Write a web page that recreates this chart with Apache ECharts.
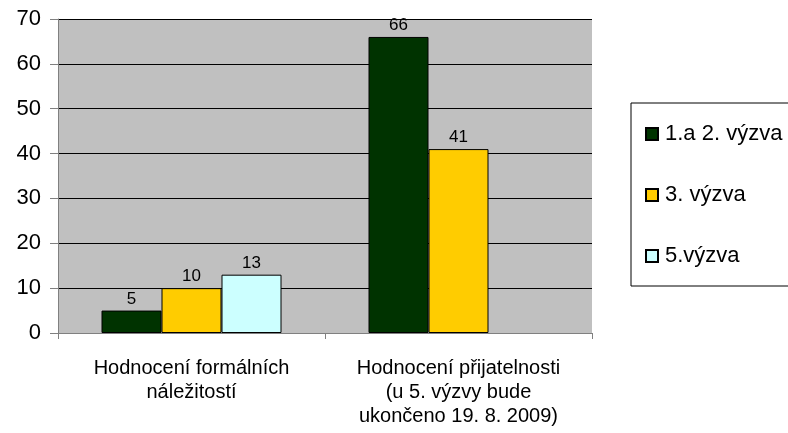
<!DOCTYPE html>
<html>
<head>
<meta charset="utf-8">
<script src="https://cdn.jsdelivr.net/npm/echarts@6/dist/echarts.min.js"></script>
<style>
  html, body { margin: 0; padding: 0; background: #fff; }
  #main { width: 788px; height: 433px; }
</style>
</head>
<body>
<div id="main"></div>
<script>
// data
var categories = ['Hodnocení formálních\nnáležitostí', 'Hodnocení přijatelnosti\n(u 5. výzvy bude\nukončeno 19. 8. 2009)']
var seriesNames = ['1.a 2. výzva', '3. výzva', '5.výzva']
var vyzva12 = [5, 66]
var vyzva3 = [10, 41]
var vyzva5 = [13, '-']
var colors = ['#003300', '#FFCC00', '#CCFFFF']

var chart = echarts.init(document.getElementById('main'))

function barSeries(name, data, color) {
  return {
    name: name,
    type: 'bar',
    data: data,
    barWidth: 60,
    barGap: '0%',
    itemStyle: {
      color: color,
      borderColor: '#000',
      borderWidth: 1
    },
    label: {
      show: true,
      position: 'top',
      distance: 3,
      color: '#000',
      fontSize: 17,
      fontFamily: 'Liberation Sans'
    }
  }
}

chart.setOption({
  animation: false,
  textStyle: { fontFamily: 'Liberation Sans' },
  grid: {
    left: 58,
    right: 196,
    top: 19,
    bottom: 100,
    show: true,
    backgroundColor: '#C0C0C0',
    borderWidth: 0
  },
  legend: {
    orient: 'vertical',
    left: 631,
    top: 103,
    data: seriesNames,
    icon: 'rect',
    itemWidth: 12,
    itemHeight: 12,
    itemGap: 39,
    padding: [20, 80, 19, 14],
    backgroundColor: '#fff',
    borderColor: '#000',
    borderWidth: 1,
    borderRadius: 0,
    textStyle: { fontSize: 22, color: '#000', fontFamily: 'Liberation Sans', padding: [0, 0, 0, 2] }
  },
  xAxis: {
    type: 'category',
    data: categories,
    axisLine: { lineStyle: { color: '#808080', width: 1 } },
    axisTick: { show: true, length: 6, lineStyle: { color: '#808080' } },
    axisLabel: {
      color: '#000',
      fontSize: 20,
      lineHeight: 24,
      margin: 23,
      interval: 0
    }
  },
  yAxis: {
    type: 'value',
    min: 0,
    max: 70,
    interval: 10,
    axisLine: { show: true, lineStyle: { color: '#808080', width: 1 } },
    axisTick: { show: true, length: 8, lineStyle: { color: '#808080' } },
    splitLine: { lineStyle: { color: '#000', width: 1 } },
    axisLabel: { color: '#000', fontSize: 22, margin: 17 }
  },
  series: [
    barSeries(seriesNames[0], vyzva12, colors[0]),
    barSeries(seriesNames[1], vyzva3, colors[1]),
    barSeries(seriesNames[2], vyzva5, colors[2])
  ]
})
</script>
</body>
</html>
